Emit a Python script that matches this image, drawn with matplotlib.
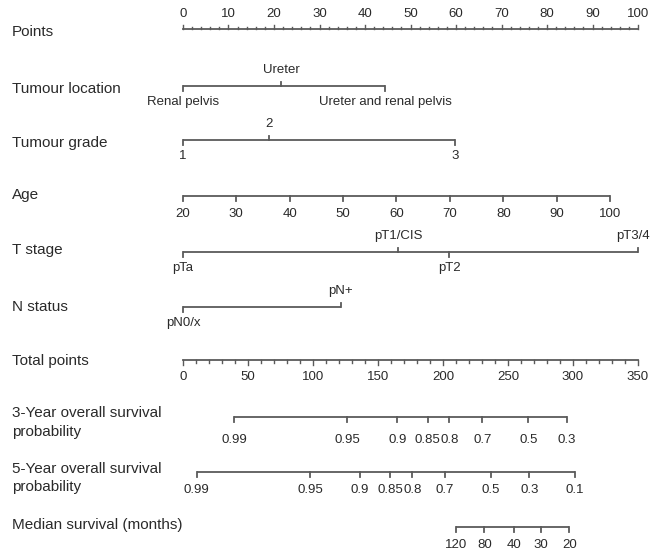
import numpy as np
import matplotlib
matplotlib.use('Agg')
import matplotlib.pyplot as plt

plt.rcParams['font.family'] = ['Liberation Sans', 'DejaVu Sans']

# Nomogram values (points scale 0-100, total points 0-350)
points_major = list(range(0, 101, 10))
points_minor = list(range(0, 101, 2))

location_labels = ['Renal pelvis', 'Ureter', 'Ureter and renal pelvis']
location_pts = [0, 21.6, 44.5]

grade_labels = ['1', '2', '3']
grade_pts = [0, 18.9, 59.8]

age_labels = ['20', '30', '40', '50', '60', '70', '80', '90', '100']
age_pts = [0, 11.7, 23.5, 35.2, 46.9, 58.6, 70.4, 82.1, 93.8]

tstage_labels = ['pTa', 'pT1/CIS', 'pT2', 'pT3/4']
tstage_pts = [0, 47.3, 58.5, 100]

nstatus_labels = ['pN0/x', 'pN+']
nstatus_pts = [0, 34.7]

total_major = list(range(0, 351, 50))
total_minor = list(range(0, 351, 10))

os3_labels = ['0.99', '0.95', '0.9', '0.85', '0.8', '0.7', '0.5', '0.3']
os3_total = [39.2, 126.4, 164.9, 188.2, 204.9, 230.2, 265.6, 295.2]

os5_labels = ['0.99', '0.95', '0.9', '0.85', '0.8', '0.7', '0.5', '0.3', '0.1']
os5_total = [10.5, 97.7, 136.2, 159.5, 176.4, 201.5, 236.9, 266.4, 301.5]

median_labels = ['120', '80', '40', '30', '20']
median_total = [209.8, 231.8, 254.6, 275.4, 297.2]

row_names = ['Points', 'Tumour location', 'Tumour grade', 'Age', 'T stage',
             'N status', 'Total points', '3-Year overall survival\nprobability',
             '5-Year overall survival\nprobability', 'Median survival (months)']

#%%
line_col = '#5a5a5a'
text_col = '#2a2a2a'
name_fs = 11
tick_fs = 9.5
tot2pts = 100 / 350.

fig = plt.figure(figsize=(6.51, 5.53), dpi=100)
ax = fig.add_axes([0, 0, 1, 1])
ppx = 4.55  # pixels per point
xmax = (651 - 183) / ppx
ax.set_xlim(-183 / ppx, xmax)
ax.set_ylim(553, 0)
ax.axis('off')


def scale(y, xs, labels, sides, ticklen=4.5, lab_off=14):
    ax.plot([min(xs), max(xs)], [y, y], color=line_col, lw=1.3, solid_capstyle='butt')
    for x, lab, s in zip(xs, labels, sides):
        d = -1 if s == 'up' else 1
        ax.plot([x, x], [y, y + d * ticklen], color=line_col, lw=1.3)
        # keep labels at the right edge inside the figure
        if x > xmax - 4:
            ax.text(xmax - 0.2, y + d * lab_off, lab, ha='right', va='center',
                    fontsize=tick_fs, color=text_col)
        else:
            ax.text(x, y + d * lab_off, lab, ha='center', va='center',
                    fontsize=tick_fs, color=text_col)


# Points axis (ticks rise from the line)
yP = 29
ax.plot([0, 100], [yP, yP], color=line_col, lw=1.3)
for v in points_minor:
    ln = 4.5 if v % 10 == 0 else 2.5
    ax.plot([v, v], [yP, yP - ln], color=line_col, lw=1)
for v in points_major:
    ax.text(v, yP - 15, str(v), ha='center', va='center', fontsize=tick_fs, color=text_col)

scale(86, location_pts, location_labels, ['down', 'up', 'down'], lab_off=16)
scale(140, grade_pts, grade_labels, ['down', 'up', 'down'], lab_off=16)
scale(196, age_pts, age_labels, ['down'] * 9, lab_off=18)
scale(252, tstage_pts, tstage_labels, ['down', 'up', 'down', 'up'], lab_off=16)
scale(307, nstatus_pts, nstatus_labels, ['down', 'up'], lab_off=16)

# Total points axis
yT = 360
ax.plot([0, 100], [yT, yT], color=line_col, lw=1.3)
for v in total_minor:
    ln = 4.5 if v % 50 == 0 else 3
    ax.plot([v * tot2pts] * 2, [yT, yT + ln], color=line_col, lw=1)
for v in total_major:
    ax.text(v * tot2pts, yT + 17, str(v), ha='center', va='center',
            fontsize=tick_fs, color=text_col)

scale(417, [v * tot2pts for v in os3_total], os3_labels, ['down'] * 8, lab_off=23)
scale(472, [v * tot2pts for v in os5_total], os5_labels, ['down'] * 9, lab_off=18)
scale(527, [v * tot2pts for v in median_total], median_labels, ['down'] * 5, lab_off=18)

# Row names
name_y = [32, 89, 143, 195, 250, 307, 361, 422.5, 478, 525]
for nm, y in zip(row_names, name_y):
    ax.text(-171 / ppx, y, nm, ha='left', va='center', fontsize=name_fs,
            color=text_col, linespacing=1.45)

fig.savefig('out.png', dpi=100)
